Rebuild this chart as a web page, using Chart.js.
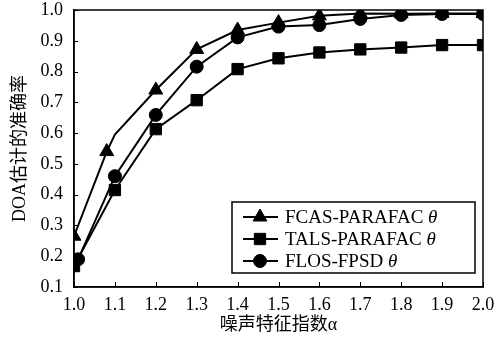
<!DOCTYPE html>
<html>
<head>
<meta charset="utf-8">
<script src="https://cdn.jsdelivr.net/npm/chart.js@4.4.0/dist/chart.umd.min.js"></script>
<style>
html,body{margin:0;padding:0;background:#fff;}
#wrap{width:501px;height:341px;position:relative;}
</style>
</head>
<body>
<div id="wrap"><canvas id="c" width="501" height="341"></canvas></div>
<script>
// ---- data ----
const alphaTicks = [1.0, 1.1, 1.2, 1.3, 1.4, 1.5, 1.6, 1.7, 1.8, 1.9, 2.0];
const accuracyTicks = [0.1, 0.2, 0.3, 0.4, 0.5, 0.6, 0.7, 0.8, 0.9, 1.0];

const fcasAlpha = [1.0, 1.08, 1.1, 1.2, 1.3, 1.4, 1.5, 1.6, 1.7, 1.8, 1.9, 2.0];
const fcasAcc   = [0.265, 0.54, 0.595, 0.74, 0.872, 0.935, 0.959, 0.981, 0.989, 0.988, 0.989, 0.989];
const fcasMarker = [true, true, false, true, true, true, true, true, true, true, true, true];

const talsAlpha = [1.0, 1.1, 1.2, 1.3, 1.4, 1.5, 1.6, 1.7, 1.8, 1.9, 2.0];
const talsAcc   = [0.168, 0.415, 0.613, 0.707, 0.808, 0.843, 0.862, 0.872, 0.878, 0.886, 0.886];

const flosAlpha = [1.01, 1.1, 1.2, 1.3, 1.4, 1.5, 1.6, 1.7, 1.8, 1.9, 2.0];
const flosAcc   = [0.19, 0.46, 0.659, 0.816, 0.911, 0.946, 0.951, 0.971, 0.984, 0.987, 0.987];

const seriesLabels = ['FCAS-PARAFAC', 'TALS-PARAFAC', 'FLOS-FPSD'];
const xTitle = '噪声特征指数α';
const yTitle = 'DOA估计的准确率';

const pts = (xs, ys) => xs.map((x, i) => ({x: x, y: ys[i]}));
const SERIF = '"Liberation Serif", "Times New Roman", "Noto Sans CJK SC", serif';

const framePlugin = {
  id: 'frame',
  beforeDatasetsDraw(chart) {
    const {ctx, chartArea: a, scales} = chart;
    ctx.save();
    ctx.strokeStyle = '#000';
    ctx.lineWidth = 1.5;
    ctx.strokeRect(a.left, a.top, a.right - a.left, a.bottom - a.top);
    ctx.lineWidth = 1;
    alphaTicks.forEach(v => {
      const px = Math.round(scales.x.getPixelForValue(v)) + 0.5;
      ctx.beginPath(); ctx.moveTo(px, a.bottom); ctx.lineTo(px, a.bottom - 5); ctx.stroke();
    });
    accuracyTicks.forEach(v => {
      const py = Math.round(scales.y.getPixelForValue(v)) + 0.5;
      ctx.beginPath(); ctx.moveTo(a.left, py); ctx.lineTo(a.left + 4, py); ctx.stroke();
    });
    ctx.restore();
  },
  afterDraw(chart) {
    const {ctx} = chart;
    const bx = 232, by = 202, bw = 243, bh = 71;
    ctx.save();
    ctx.fillStyle = '#fff';
    ctx.fillRect(bx, by, bw, bh);
    ctx.strokeStyle = '#000';
    ctx.lineWidth = 1.5;
    ctx.strokeRect(bx, by, bw, bh);
    chart.data.datasets.forEach((ds, i) => {
      const y = by + 15 + i * 22;
      ctx.strokeStyle = '#000';
      ctx.fillStyle = '#000';
      ctx.lineWidth = 2;
      ctx.beginPath(); ctx.moveTo(243, y); ctx.lineTo(278, y); ctx.stroke();
      const r = Array.isArray(ds.pointRadius) ? ds.pointRadius[0] : ds.pointRadius;
      ctx.lineWidth = 1;
      Chart.helpers.drawPoint(ctx, {pointStyle: ds.pointStyle, radius: r, borderWidth: 1}, 260, y);
      ctx.fillStyle = '#000';
      ctx.textBaseline = 'middle';
      ctx.font = '19px ' + SERIF;
      ctx.fillText(ds.label + ' ', 285, y + 1);
      const w = ctx.measureText(ds.label + ' ').width;
      ctx.font = 'italic 19px ' + SERIF;
      ctx.fillText('θ', 285 + w, y + 1);
    });
    ctx.restore();
  }
};

const common = {
  borderColor: '#000', backgroundColor: '#000', borderWidth: 2,
  pointBorderColor: '#000', pointBackgroundColor: '#000', pointBorderWidth: 1,
  tension: 0, fill: false
};

new Chart(document.getElementById('c'), {
  type: 'line',
  data: {
    datasets: [
      Object.assign({}, common, {label: seriesLabels[0], data: pts(fcasAlpha, fcasAcc), pointStyle: 'triangle',
        pointRadius: fcasMarker.map(m => m ? 8 : 0)}),
      Object.assign({}, common, {label: seriesLabels[1], data: pts(talsAlpha, talsAcc), pointStyle: 'rect', pointRadius: 8}),
      Object.assign({}, common, {label: seriesLabels[2], data: pts(flosAlpha, flosAcc), pointStyle: 'circle', pointRadius: 6.5})
    ]
  },
  options: {
    responsive: false,
    animation: false,
    events: [],
    layout: {padding: {top: 10, right: 18, left: 0, bottom: 0}},
    plugins: {legend: {display: false}, tooltip: {enabled: false}},
    scales: {
      x: {
        type: 'linear', min: 1.0, max: 2.0,
        afterBuildTicks: s => { s.ticks = alphaTicks.map(v => ({value: v})); },
        afterFit: s => { s.height = 54; s.paddingLeft = 0; s.paddingRight = 0; },
        grid: {display: false, drawTicks: false},
        border: {display: true, color: '#000', width: 1.5},
        ticks: {color: '#000', padding: 7, maxRotation: 0, autoSkip: false,
          font: {family: SERIF, size: 18}, callback: v => Number(v).toFixed(1)},
        title: {display: true, text: xTitle, color: '#000', font: {family: SERIF, size: 18}, padding: {top: 0, bottom: 5}}
      },
      y: {
        type: 'linear', min: 0.1, max: 1.0,
        afterBuildTicks: s => { s.ticks = accuracyTicks.map(v => ({value: v})); },
        afterFit: s => { s.width = 74; s.paddingTop = 0; s.paddingBottom = 0; },
        grid: {display: false, drawTicks: false},
        border: {display: true, color: '#000', width: 1.5},
        ticks: {color: '#000', padding: 11, autoSkip: false,
          font: {family: SERIF, size: 18}, callback: v => Number(v).toFixed(1)},
        title: {display: true, text: yTitle, color: '#000', font: {family: SERIF, size: 18}, padding: {top: 9, bottom: 0}}
      }
    }
  },
  plugins: [framePlugin]
});
</script>
</body>
</html>
